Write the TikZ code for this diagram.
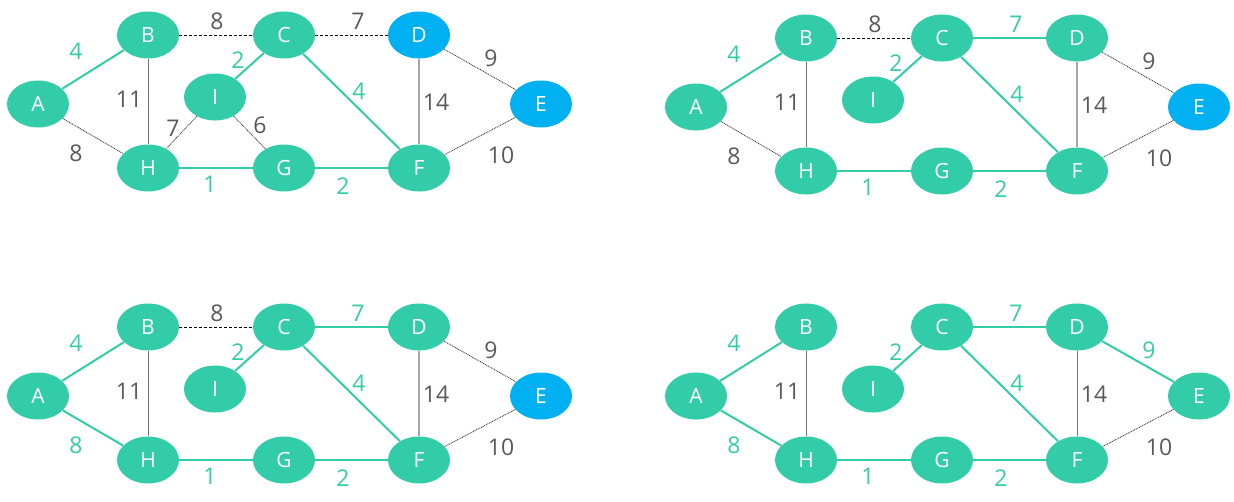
\documentclass[tikz,border=0pt]{standalone}
\usepackage{fontspec}
\setmainfont{Open Sans}
\usetikzlibrary{shapes.geometric}

\definecolor{mstgreen}{HTML}{33CCA8}
\definecolor{visitblue}{HTML}{00B0F0}
\definecolor{wgray}{HTML}{595959}

\tikzset{
  vtx/.style={ellipse, fill=mstgreen, minimum width=62pt, minimum height=47pt,
              inner sep=0pt, text=white, font=\fontsize{21}{21}\selectfont},
  vtxblue/.style={vtx, fill=visitblue},
  tree/.style={draw=mstgreen, line width=2pt},
  cand/.style={draw=black, line width=1pt, dash pattern=on 3pt off 2pt},
  plain/.style={draw=black!80, line width=0.8pt, dash pattern=on 1pt off 0.8pt},
  upright/.style={draw=black!55, line width=1pt},
  light/.style={draw=black!35, line width=1.2pt},
  wt/.style={text=wgray, font=\fontsize{23}{23}\selectfont, inner sep=0pt},
  wtg/.style={wt, text=mstgreen},
}

% the nine vertices of one graph; #1 name prefix, #2 style of D, #3 style of E
\newcommand\graphvertices[3]{%
  \node[vtx] (#1A) at (38,104) {A};
  \node[vtx] (#1B) at (148,35) {B};
  \node[vtx] (#1C) at (284,35) {C};
  \node[#2]  (#1D) at (419,35) {D};
  \node[#3]  (#1E) at (541,104) {E};
  \node[vtx] (#1I) at (215,97) {I};
  \node[vtx] (#1H) at (148,168) {H};
  \node[vtx] (#1G) at (284,168) {G};
  \node[vtx] (#1F) at (419,168) {F};
}

\begin{document}
\begin{tikzpicture}[x=1pt, y=-1pt]
\useasboundingbox (0,0) rectangle (1234,501);

% ---- step 1
\begin{scope}
  \graphvertices{p}{vtxblue}{vtxblue}
  \draw[tree] (pA) -- (pB);
  \draw[tree] (pC) -- (pI);
  \draw[tree] (pC) -- (pF);
  \draw[tree] (pH) -- (pG);
  \draw[tree] (pG) -- (pF);
  \draw[cand] (pB) -- (pC);
  \draw[cand] (pC) -- (pD);
  \draw[plain] (pA) -- (pH);
  \draw[upright] (pB) -- (pH);
  \draw[plain] (pI) -- (pH);
  \draw[plain] (pI) -- (pG);
  \draw[plain] (pD) -- (pE);
  \draw[plain] (pE) -- (pF);
  \draw[light] (pD) -- (pF);
  \node[wtg] (pw1) at (76,51) {4};
  \node[wt]  (pw2) at (217,21) {8};
  \node[wt]  (pw3) at (358,21) {7};
  \node[wt]  (pw4) at (491,58) {9};
  \node[wt]  (pw5) at (129,99) {11};
  \node[wtg] (pw6) at (238,60) {2};
  \node[wtg] (pw7) at (359,91) {4};
  \node[wt]  (pw8) at (436,102) {14};
  \node[wt]  (pw9) at (173,128) {7};
  \node[wt]  (pw10) at (260,125) {6};
  \node[wt]  (pw11) at (76,153) {8};
  \node[wt]  (pw12) at (501,155) {10};
  \node[wtg] (pw13) at (210,184) {1};
  \node[wtg] (pw14) at (343,186) {2};
\end{scope}

% ---- step 2
\begin{scope}[shift={(658,3)}]
  \graphvertices{q}{vtx}{vtxblue}
  \draw[tree] (qA) -- (qB);
  \draw[tree] (qC) -- (qD);
  \draw[tree] (qC) -- (qI);
  \draw[tree] (qC) -- (qF);
  \draw[tree] (qH) -- (qG);
  \draw[tree] (qG) -- (qF);
  \draw[cand] (qB) -- (qC);
  \draw[plain] (qA) -- (qH);
  \draw[upright] (qB) -- (qH);
  \draw[plain] (qD) -- (qE);
  \draw[plain] (qE) -- (qF);
  \draw[light] (qD) -- (qF);
  \node[wtg] (qw1) at (76,51) {4};
  \node[wt]  (qw2) at (217,21) {8};
  \node[wtg] (qw3) at (358,21) {7};
  \node[wt]  (qw4) at (491,58) {9};
  \node[wt]  (qw5) at (129,99) {11};
  \node[wtg] (qw6) at (238,60) {2};
  \node[wtg] (qw7) at (359,91) {4};
  \node[wt]  (qw8) at (436,102) {14};
  \node[wt]  (qw11) at (76,153) {8};
  \node[wt]  (qw12) at (501,155) {10};
  \node[wtg] (qw13) at (210,184) {1};
  \node[wtg] (qw14) at (343,186) {2};
\end{scope}

% ---- step 3
\begin{scope}[shift={(0,292)}]
  \graphvertices{r}{vtx}{vtxblue}
  \draw[tree] (rA) -- (rB);
  \draw[tree] (rA) -- (rH);
  \draw[tree] (rC) -- (rD);
  \draw[tree] (rC) -- (rI);
  \draw[tree] (rC) -- (rF);
  \draw[tree] (rH) -- (rG);
  \draw[tree] (rG) -- (rF);
  \draw[cand] (rB) -- (rC);
  \draw[upright] (rB) -- (rH);
  \draw[plain] (rD) -- (rE);
  \draw[plain] (rE) -- (rF);
  \draw[light] (rD) -- (rF);
  \node[wtg] (rw1) at (76,51) {4};
  \node[wt]  (rw2) at (217,21) {8};
  \node[wtg] (rw3) at (358,21) {7};
  \node[wt]  (rw4) at (491,58) {9};
  \node[wt]  (rw5) at (129,99) {11};
  \node[wtg] (rw6) at (238,60) {2};
  \node[wtg] (rw7) at (359,91) {4};
  \node[wt]  (rw8) at (436,102) {14};
  \node[wtg] (rw11) at (76,153) {8};
  \node[wt]  (rw12) at (501,155) {10};
  \node[wtg] (rw13) at (210,184) {1};
  \node[wtg] (rw14) at (343,186) {2};
\end{scope}

% ---- step 4
\begin{scope}[shift={(658,292)}]
  \graphvertices{s}{vtx}{vtx}
  \draw[tree] (sA) -- (sB);
  \draw[tree] (sA) -- (sH);
  \draw[tree] (sC) -- (sD);
  \draw[tree] (sC) -- (sI);
  \draw[tree] (sC) -- (sF);
  \draw[tree] (sD) -- (sE);
  \draw[tree] (sH) -- (sG);
  \draw[tree] (sG) -- (sF);
  \draw[upright] (sB) -- (sH);
  \draw[plain] (sE) -- (sF);
  \draw[upright] (sD) -- (sF);
  \node[wtg] (sw1) at (76,51) {4};
  \node[wtg] (sw3) at (358,21) {7};
  \node[wtg] (sw4) at (491,58) {9};
  \node[wt]  (sw5) at (129,99) {11};
  \node[wtg] (sw6) at (238,60) {2};
  \node[wtg] (sw7) at (359,91) {4};
  \node[wt]  (sw8) at (436,102) {14};
  \node[wtg] (sw11) at (76,153) {8};
  \node[wt]  (sw12) at (501,155) {10};
  \node[wtg] (sw13) at (210,184) {1};
  \node[wtg] (sw14) at (343,186) {2};
\end{scope}
\end{tikzpicture}
\end{document}
